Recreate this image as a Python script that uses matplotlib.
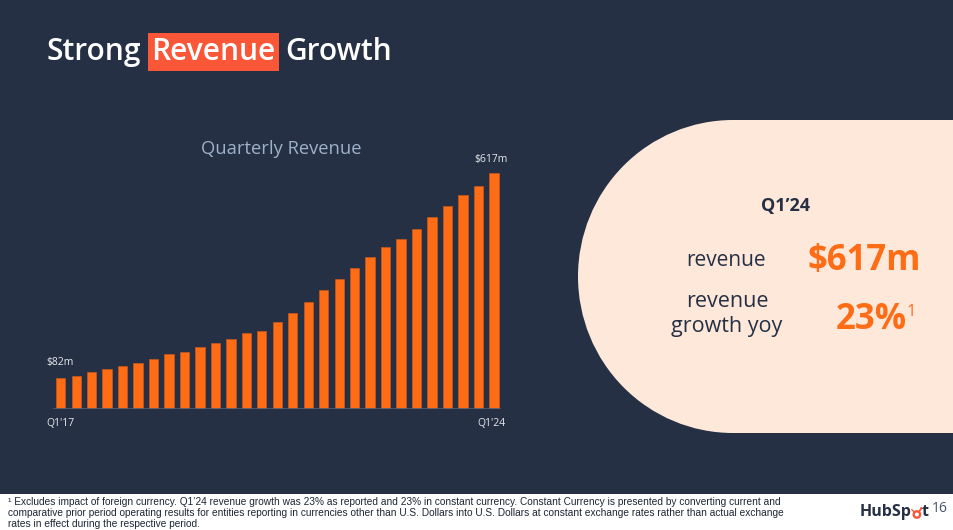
import matplotlib
matplotlib.use("Agg")
import matplotlib.pyplot as plt
from matplotlib.patches import Circle, Ellipse, Rectangle

# quarterly revenue, $m, Q1'17 .. Q1'24
quarters = [f"Q{q}'{y}" for y in range(17, 24) for q in range(1, 5)] + ["Q1'24"]
revenue = [82, 88, 96, 105, 113, 121, 131, 143,
           150, 163, 174, 184, 198, 204, 228, 251,
           281, 311, 339, 369, 396, 422, 444, 470,
           502, 529, 558, 581, 617]

headline_label = "Q1’24"
headline_revenue = "$617m"
headline_growth = "23%"

NAVY = "#253044"
ORANGE = "#FF6C16"
CORAL = "#F95738"
CREAM = "#FDE8DA"
FONT = ["Open Sans", "DejaVu Sans"]

W, H = 954, 530
fig = plt.figure(figsize=(W / 100, H / 100), dpi=100, facecolor=NAVY)

# full-figure overlay in pixel coords (y down)
bg = fig.add_axes([0, 0, 1, 1], zorder=0)
bg.set_xlim(0, W)
bg.set_ylim(H, 0)
bg.axis("off")

# footer strip
bg.add_patch(Rectangle((0, 494), W, 36, fc="white", ec="none"))

# cream panel on the right
bg.add_patch(Ellipse((733, 276.5), 310, 313, fc=CREAM, ec="none"))
bg.add_patch(Rectangle((733, 120), W - 733, 313, fc=CREAM, ec="none"))

renderer = fig.canvas.get_renderer()

# title
title_kw = dict(color="white", fontsize=21.5, fontweight="semibold", family=FONT)
t = bg.text(47, 52, "Strong", ha="left", va="center", **title_kw)
x = t.get_window_extent(renderer).x1
t = bg.text(x + 10, 52, "Revenue", ha="left", va="center",
            bbox=dict(boxstyle="square,pad=0.12", fc=CORAL, ec="none"), **title_kw)
x = t.get_window_extent(renderer).x1
bg.text(x + 10, 52, "Growth", ha="left", va="center", **title_kw)

# bar chart
px = 15.47
left_px = 60.7 - 0.6 * px
right_px = 60.7 + 28.6 * px
ax = fig.add_axes([left_px / W, 120.7 / H, (right_px - left_px) / W, 700 * 0.3835 / H],
                  zorder=1)
ax.patch.set_alpha(0)
xs = list(range(len(revenue)))
ax.bar(xs, revenue, width=0.6, color=ORANGE, edgecolor="#d95a10", linewidth=0.4)
ax.plot([-0.45, 28.4], [0, 0], color="#4d5d75", lw=1.2)
ax.set_xlim(-0.6, 28.6)
ax.set_ylim(0, 700)
ax.axis("off")

lab_kw = dict(textcoords="offset points", color="#E6E9EE", fontsize=7.5, family=FONT)
ax.annotate(f"${revenue[0]}m", (xs[0], revenue[0]), xytext=(-10, 7),
            ha="left", va="bottom", **lab_kw)
ax.annotate(f"${revenue[-1]}m", (xs[-1], revenue[-1]), xytext=(-2, 5.5),
            ha="center", va="bottom", **lab_kw)
ax.annotate(quarters[0], (xs[0], 0), xytext=(-10, -10),
            ha="left", va="center", **lab_kw)
ax.annotate(quarters[-1], (xs[-1], 0), xytext=(-2, -10),
            ha="center", va="center", **lab_kw)

bg.text(281, 149, "Quarterly Revenue", ha="center", va="center",
        color="#9FB1C9", fontsize=13.2, family=FONT)

# right panel text
bg.text(786, 206, headline_label, ha="center", va="center", color=NAVY,
        fontsize=13, fontweight="bold", family=FONT)
bg.text(766, 261, "revenue", ha="right", va="center", color=NAVY,
        fontsize=15, family=FONT)
bg.text(727, 314, "revenue\ngrowth yoy", ha="center", va="center", color=NAVY,
        fontsize=15.5, family=FONT, linespacing=1.3, multialignment="center")
bg.text(808, 261, headline_revenue, ha="left", va="center", color=ORANGE,
        fontsize=25, fontweight="bold", family=FONT)
t = bg.text(836, 320, headline_growth, ha="left", va="center", color=ORANGE,
            fontsize=25, fontweight="bold", family=FONT)
x = t.get_window_extent(renderer).x1
bg.text(x - 1, 312, "1", ha="left", va="center", color=ORANGE,
        fontsize=12, family=FONT)

# footnote
foot = ("¹ Excludes impact of foreign currency. Q1’24 revenue growth was 23% as reported and 23% in constant currency. "
        "Constant Currency is presented by converting current and\n"
        "comparative prior period operating results for entities reporting in currencies other than U.S. Dollars "
        "into U.S. Dollars at constant exchange rates rather than actual exchange\n"
        "rates in effect during the respective period.")
bg.text(8, 513, foot, ha="left", va="center", color="#1d2633", fontsize=7.3,
        family=["Liberation Sans Narrow", "Liberation Sans", "DejaVu Sans"],
        linespacing=1.08)

# logo: "HubSp" + sprocket + "t"
logo_kw = dict(color=NAVY, fontsize=11.5, fontweight="bold", family=FONT)
t = bg.text(860, 512, "HubSp", ha="left", va="center", **logo_kw)
x = t.get_window_extent(renderer).x1
cx = x + 5
bg.add_patch(Circle((cx, 514.5), 3.2, fc="none", ec=CORAL, lw=1.7))
bg.plot([cx + 2.2, cx + 4.2], [511.8, 508.5], color=CORAL, lw=1.3)
bg.add_patch(Circle((cx + 4.5, 508.2), 1.1, fc=CORAL, ec="none"))
bg.plot([cx - 2.5, cx - 5.0], [511.9, 509.8], color=CORAL, lw=1.0)
t = bg.text(cx + 5, 512, "t", ha="left", va="center", **logo_kw)
x = t.get_window_extent(renderer).x1
bg.text(x + 3, 508, "16", ha="left", va="center", color="#4a5566",
        fontsize=10, family=FONT)

fig.savefig("out.png", dpi=100, facecolor=NAVY)
